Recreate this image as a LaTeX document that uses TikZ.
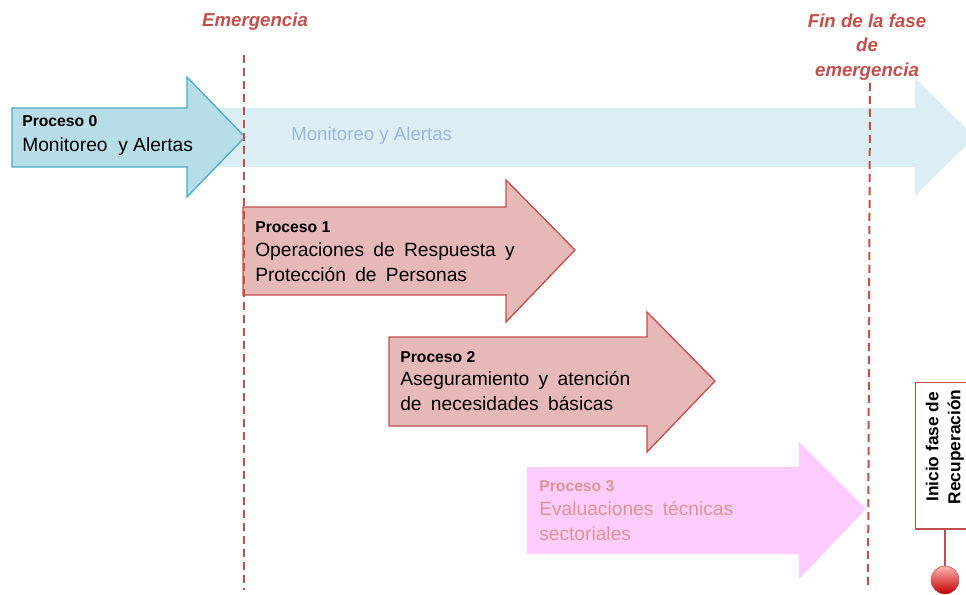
\documentclass[tikz,border=0pt]{standalone}
\usepackage{fontspec}
\setmainfont{Liberation Sans}
\usetikzlibrary{positioning}

\definecolor{redline}{HTML}{C0504D}
\definecolor{bluefill}{HTML}{B7DDE8}
\definecolor{blueline}{HTML}{4BACC6}
\definecolor{bluepale}{HTML}{DBEEF4}
\definecolor{bluetext}{HTML}{9DB9D8}
\definecolor{redfill}{HTML}{E6B9B8}
\definecolor{pinkfill}{HTML}{FFCCFF}
\definecolor{pinktext}{HTML}{D99694}
\newcommand\widesp{\spaceskip 7pt plus 1pt\relax}

\begin{document}
\begin{tikzpicture}[x=0.75pt,y=-0.75pt,
	mark line/.style={redline,line width=1.5pt,dash pattern=on 6pt off 3.75pt},
	phase/.style={text=redline,align=center,font=\bfseries\itshape\fontsize{14}{18.5}\selectfont},
	title/.style={anchor=base west,inner sep=0pt,font=\bfseries\fontsize{11.8}{13}\selectfont},
	body/.style={anchor=base west,inner sep=0pt,align=left,font=\fontsize{14.4}{18.75}\selectfont\widesp},
	redarrow/.style={fill=redfill,draw=redline,line width=1pt,line join=miter}]
\useasboundingbox (0,0) rectangle (966,595);

% arrows
\fill[bluepale] (12,108) -- (915,108) -- (915,78) -- (975,137) -- (915,196) -- (915,167) -- (12,167) -- cycle;
\draw[fill=bluefill,draw=blueline,line width=1pt] (12,108) -- (187,108) -- (187,77) -- (245,137) -- (187,197) -- (187,167) -- (12,167) -- cycle;
\draw[redarrow] (243,207) -- (506,207) -- (506,180) -- (575,250) -- (506,322) -- (506,295) -- (243,295) -- cycle;
\draw[redarrow] (389,337) -- (647,337) -- (647,312) -- (715,381) -- (647,452) -- (647,426) -- (389,426) -- cycle;
\fill[pinkfill] (527,467) -- (799,467) -- (799,442) -- (866,509) -- (799,579) -- (799,554) -- (527,554) -- cycle;

% dashed marks
\coordinate (em top) at (244,55);
\coordinate (em bot) at (244,590);
\coordinate (fin top) at (870,83);
\coordinate (fin bot) at (868,590);
\draw[mark line] (em top) -- (em bot);
\draw[mark line] (fin top) -- (fin bot);

\node[phase] (em) at (255,22) {Emergencia};
\node[phase] (fin) at (867,47) {Fin de la fase\\de\\emergencia};

% texts
\node[text=bluetext,font=\fontsize{14}{16}\selectfont,anchor=base west,inner sep=0pt] (bg) at (291,141) {Monitoreo y Alertas};

\node[title] (p0) at (22,127) {Proceso 0};
\node[body,font=\fontsize{14.4}{18.75}\selectfont] (p0t) at (22,152) {Monitoreo\hspace{4pt} y Alertas};

\node[title] (p1) at (255,233) {Proceso 1};
\node[body] (p1t) at (255,281) {Operaciones de Respuesta y\\Protección de Personas};

\node[title] (p2) at (400,362) {Proceso 2};
\node[body] (p2t) at (400,410) {Aseguramiento y atención\\de necesidades básicas};

\node[title,text=pinktext] (p3) at (539,491) {Proceso 3};
\node[body,text=pinktext] (p3t) at (539,540) {Evaluaciones técnicas\\sectoriales};

% recuperacion
\node[rotate=90,draw=redline,fill=white,line width=1pt,minimum width=110pt,minimum height=44pt,
	align=center,font=\bfseries\fontsize{13}{16.5}\selectfont] (rec) at (945,455.5)
	{\hspace*{13pt}Inicio fase de\\\hspace*{13pt}Recuperación};
\node[circle,minimum size=21pt,inner sep=0pt,draw=redline,top color=red!30!white,bottom color=red!75!black] (dot) at (945,580) {};
\draw[redline,line width=1pt] (rec.west) -- (dot);
\end{tikzpicture}
\end{document}
